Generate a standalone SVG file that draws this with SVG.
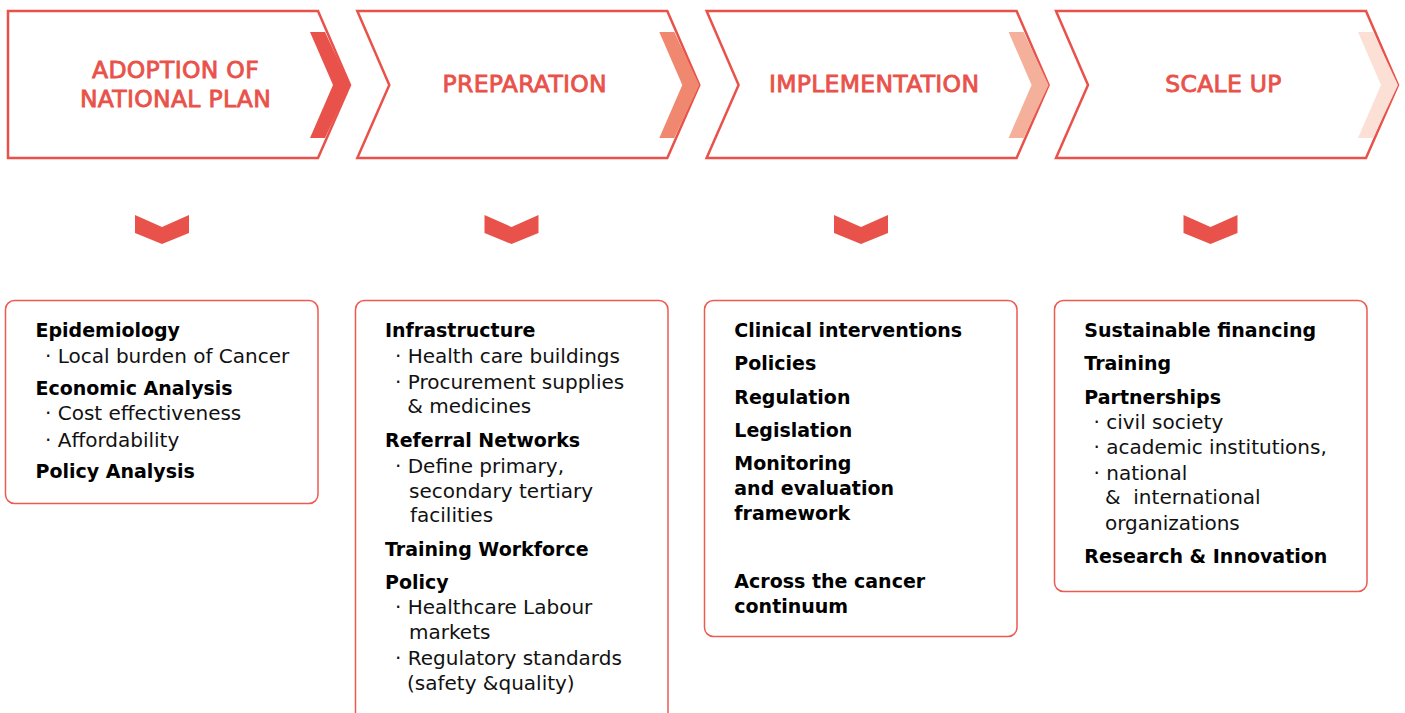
<svg xmlns="http://www.w3.org/2000/svg" width="1405" height="713" viewBox="0 0 1405 713">
<style>
.outline{fill:#fff;stroke:#E9524A;stroke-width:2.5;stroke-linejoin:miter}
.ttl{font-family:"DejaVu Sans","Open Sans",sans-serif;font-size:23.5px;letter-spacing:0.3px;fill:#E9524A;stroke:#E9524A;stroke-width:0.85;text-anchor:middle}
.down{fill:#E9524A}
.box{fill:#fff;stroke:#EC5B50;stroke-width:1.5}
.b{font-family:"DejaVu Sans","Liberation Sans",sans-serif;font-weight:bold;font-size:19px;fill:#000}
.r{font-family:"DejaVu Sans","Liberation Sans",sans-serif;font-size:20px;fill:#111}
</style>
<rect width="1405" height="713" fill="#fff"/>
<g id="stage-adoption">
<polygon class="outline" points="8,11 318,11 350,85 318,158 8,158"/>
<polygon fill="#E9524A" points="310,32 325,32 350,85 325,138 310,138 333,85"/>
<text class="ttl" x="175.5" y="78">ADOPTION OF</text>
<text class="ttl" x="175.5" y="107">NATIONAL PLAN</text>
</g>
<g id="stage-preparation" transform="translate(349.3,0)">
<polygon class="outline" points="8,11 318,11 350,85 318,158 8,158 40,85"/>
<polygon fill="#F0876F" points="310,32 325,32 350,85 325,138 310,138 333,85"/>
<text class="ttl" x="175.5" y="92">PREPARATION</text>
</g>
<g id="stage-implementation" transform="translate(698.6,0)">
<polygon class="outline" points="8,11 318,11 350,85 318,158 8,158 40,85"/>
<polygon fill="#F5B09B" points="310,32 325,32 350,85 325,138 310,138 333,85"/>
<text class="ttl" x="175.5" y="92">IMPLEMENTATION</text>
</g>
<g id="stage-scaleup" transform="translate(1048,0)">
<polygon class="outline" points="8,11 318,11 350,85 318,158 8,158 40,85"/>
<polygon fill="#FCE0D6" points="310,32 325,32 350,85 325,138 310,138 333,85"/>
<text class="ttl" x="175.5" y="92">SCALE UP</text>
</g>
<g id="connectors">
<polygon class="down" points="135,215 162,227 189,215 189,233 162,244 135,233"/>
<polygon class="down" transform="translate(349.5,0)" points="135,215 162,227 189,215 189,233 162,244 135,233"/>
<polygon class="down" transform="translate(699,0)" points="135,215 162,227 189,215 189,233 162,244 135,233"/>
<polygon class="down" transform="translate(1048.5,0)" points="135,215 162,227 189,215 189,233 162,244 135,233"/>
</g>
<g id="box-adoption">
<rect class="box" x="5.5" y="300.5" width="312.5" height="203" rx="9"/>
<text class="b" x="35.5" y="337">Epidemiology</text>
<text class="r" x="45" y="363">· Local burden of Cancer</text>
<text class="b" x="35.5" y="395">Economic Analysis</text>
<text class="r" x="45" y="420">· Cost effectiveness</text>
<text class="r" x="45" y="446.5">· Affordability</text>
<text class="b" x="35.5" y="478">Policy Analysis</text>
</g>
<g id="box-preparation">
<rect class="box" x="355.5" y="300.5" width="312.5" height="440" rx="9"/>
<text class="b" x="385" y="337">Infrastructure</text>
<text class="r" x="395" y="363">· Health care buildings</text>
<text class="r" x="395" y="388.5">· Procurement supplies</text>
<text class="r" x="407.3" y="413">&amp; medicines</text>
<text class="b" x="385" y="446.5">Referral Networks</text>
<text class="r" x="395" y="472.5">· Define primary,</text>
<text class="r" x="409" y="497.5">secondary tertiary</text>
<text class="r" x="410" y="522">facilities</text>
<text class="b" x="385" y="555.5">Training Workforce</text>
<text class="b" x="385" y="588.5">Policy</text>
<text class="r" x="395" y="614">· Healthcare Labour</text>
<text class="r" x="409" y="639">markets</text>
<text class="r" x="395" y="665">· Regulatory standards</text>
<text class="r" x="407" y="690">(safety &amp;quality)</text>
</g>
<g id="box-implementation">
<rect class="box" x="704.5" y="300.5" width="312.5" height="336" rx="9"/>
<text class="b" x="734.3" y="337">Clinical interventions</text>
<text class="b" x="734.3" y="370">Policies</text>
<text class="b" x="734.3" y="404">Regulation</text>
<text class="b" x="734.3" y="437">Legislation</text>
<text class="b" x="734.3" y="470">Monitoring</text>
<text class="b" x="734.3" y="495">and evaluation</text>
<text class="b" x="734.3" y="520">framework</text>
<text class="b" x="734.3" y="587.5">Across the cancer</text>
<text class="b" x="734.3" y="612.5">continuum</text>
</g>
<g id="box-scaleup">
<rect class="box" x="1054.5" y="300.5" width="312.5" height="291" rx="9"/>
<text class="b" x="1084.3" y="337">Sustainable financing</text>
<text class="b" x="1084.3" y="370">Training</text>
<text class="b" x="1084.3" y="403.5">Partnerships</text>
<text class="r" x="1093.5" y="428.5">· civil society</text>
<text class="r" x="1093.5" y="453.5">· academic institutions,</text>
<text class="r" x="1093.5" y="479.5">· national</text>
<text class="r" x="1105" y="504" xml:space="preserve">&amp;  international</text>
<text class="r" x="1105" y="529.5">organizations</text>
<text class="b" x="1084.3" y="563">Research &amp; Innovation</text>
</g>
</svg>
